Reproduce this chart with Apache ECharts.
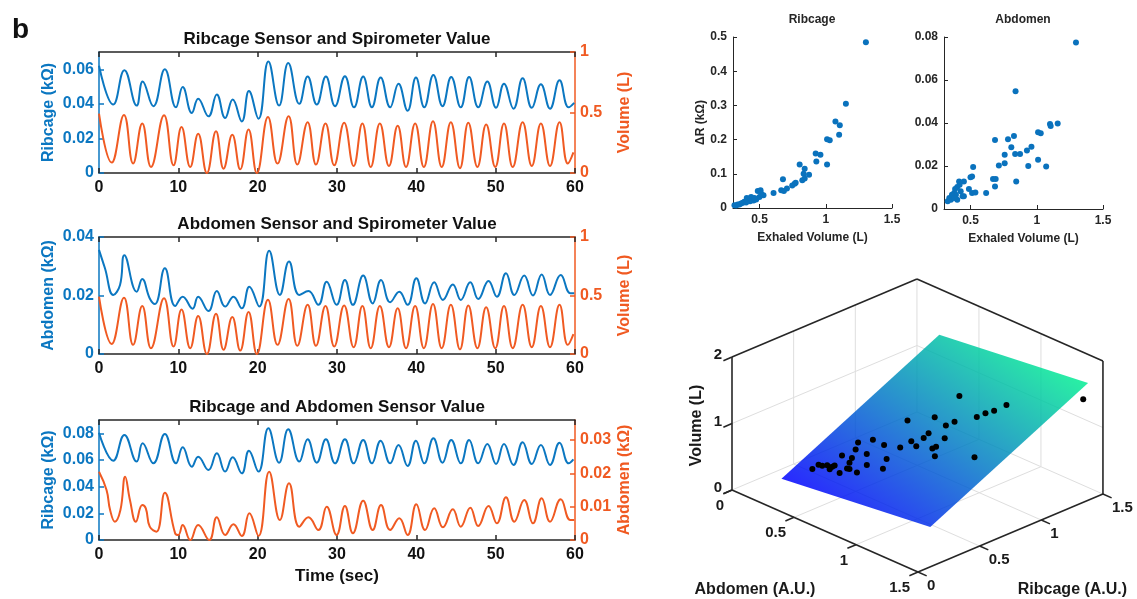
<!DOCTYPE html>
<html>
<head>
<meta charset="utf-8">
<script src="https://cdn.jsdelivr.net/npm/echarts@6/dist/echarts.min.js"></script>
<style>
  html, body { margin: 0; padding: 0; background: #fff; }
  #chart { width: 1137px; height: 599px; }
</style>
</head>
<body>
<div id="chart"></div>
<script>
// ---- time series, [sec, value] at the peaks and troughs ----
const ribcageTop = [[0,0.062],[1.8,0.0396],[3.2,0.0595],[4.75,0.039],[5.5,0.053],[6.85,0.0386],[8.3,0.060],[9.7,0.038],[10.55,0.0497],[11.7,0.0347],[12.5,0.043],[13.8,0.0328],[14.85,0.0454],[15.9,0.0318],[16.85,0.0425],[18.0,0.0298],[18.9,0.0474],[20.1,0.0314],[21.35,0.0645],[22.7,0.039],[23.85,0.0636],[25.25,0.040],[26.3,0.0558],[27.45,0.0396],[28.6,0.0558],[29.75,0.0386],[31.0,0.056],[32.15,0.038],[33.3,0.0558],[34.4,0.038],[35.5,0.0552],[36.7,0.038],[37.75,0.0517],[38.9,0.036],[39.95,0.0552],[41.0,0.038],[42.15,0.0567],[43.3,0.0386],[44.4,0.0556],[45.6,0.038],[46.65,0.0556],[47.8,0.038],[48.95,0.0529],[50.05,0.0377],[51.05,0.0517],[52.25,0.0372],[53.4,0.0548],[54.55,0.0377],[55.7,0.0513],[56.85,0.0372],[58.05,0.0536],[59.2,0.038],[59.9,0.0406]];
const volume = [[0,0.49],[1.6,0.086],[3.15,0.48],[4.3,0.078],[5.45,0.41],[6.55,0.05],[8.2,0.477],[9.4,0.064],[10.4,0.38],[11.5,0.05],[12.5,0.325],[13.6,0.0],[14.75,0.345],[15.7,0.036],[16.8,0.317],[17.8,0.03],[18.85,0.36],[19.9,0.0],[21.3,0.463],[22.5,0.078],[23.9,0.47],[25.0,0.07],[26.3,0.42],[27.35,0.07],[28.55,0.41],[29.65,0.064],[30.9,0.415],[32.1,0.058],[33.2,0.41],[34.25,0.05],[35.4,0.41],[36.55,0.058],[37.65,0.39],[38.7,0.05],[39.85,0.41],[40.95,0.05],[42.1,0.427],[43.2,0.05],[44.35,0.42],[45.5,0.04],[46.55,0.415],[47.7,0.05],[48.8,0.4],[49.95,0.05],[51.05,0.41],[52.15,0.05],[53.4,0.42],[54.55,0.058],[55.7,0.41],[56.85,0.058],[58.05,0.42],[59.1,0.078],[59.8,0.17]];
const abdomenMid = [[0,0.0356],[0.75,0.0293],[1.8,0.0202],[2.65,0.0236],[3.2,0.0338],[4.75,0.0213],[5.45,0.0256],[6.4,0.019],[7.05,0.0171],[8.3,0.0293],[9.6,0.0164],[10.55,0.0196],[11.8,0.0155],[12.5,0.0196],[13.8,0.0147],[14.85,0.0215],[15.9,0.0162],[16.95,0.0196],[18.0,0.0156],[18.95,0.023],[20.2,0.0162],[21.45,0.0353],[22.8,0.0202],[23.95,0.0316],[25.25,0.0202],[26.4,0.0215],[27.65,0.0168],[28.7,0.0247],[29.95,0.0168],[31.0,0.0253],[32.0,0.0168],[33.3,0.0268],[34.5,0.0173],[35.55,0.0253],[36.7,0.0177],[37.85,0.0213],[38.9,0.0168],[40.0,0.0259],[41.1,0.0173],[42.25,0.0245],[43.35,0.0185],[44.6,0.0238],[45.6,0.0185],[46.8,0.0245],[47.8,0.0188],[49.1,0.025],[50.15,0.0196],[51.3,0.0276],[52.35,0.0202],[53.6,0.0268],[54.7,0.02],[55.8,0.0272],[56.85,0.0202],[58.2,0.027],[59.4,0.0208],[59.9,0.0208]];
const ribcageLow = [[0,0.0805],[1.8,0.0595],[3.2,0.0788],[4.75,0.0588],[5.5,0.0725],[6.85,0.0575],[8.3,0.0795],[9.7,0.0575],[10.55,0.0695],[11.7,0.055],[12.5,0.0625],[13.8,0.0525],[14.85,0.065],[15.9,0.0513],[16.85,0.062],[18.0,0.05],[18.9,0.067],[20.1,0.0513],[21.35,0.0838],[22.7,0.058],[23.85,0.083],[25.25,0.0588],[26.3,0.0755],[27.45,0.058],[28.6,0.0755],[29.75,0.0575],[31.0,0.0755],[32.1,0.0575],[33.3,0.075],[34.4,0.0575],[35.5,0.0745],[36.7,0.0575],[37.75,0.0713],[38.9,0.0555],[39.95,0.0745],[41.0,0.0575],[42.15,0.0763],[43.3,0.058],[44.4,0.075],[45.6,0.0575],[46.65,0.075],[47.8,0.0575],[48.95,0.072],[50.05,0.057],[51.05,0.072],[52.25,0.0563],[53.4,0.0733],[54.55,0.057],[55.7,0.0713],[56.85,0.0563],[58.05,0.073],[59.2,0.0575],[59.8,0.0605]];
const abdomenLow = [[0,0.0205],[0.95,0.015],[1.4,0.009],[2.0,0.0055],[2.7,0.009],[3.3,0.019],[3.9,0.012],[4.65,0.0055],[5.45,0.0105],[5.9,0.0095],[6.4,0.004],[7.25,0.0025],[8.3,0.0142],[9.6,0.002],[10.0,0.0015],[10.55,0.0045],[11.5,0],[12.5,0.0045],[13.9,0],[14.85,0.0068],[15.9,0.0015],[16.95,0.0047],[18.0,0.0012],[18.95,0.008],[20.1,0.0012],[21.45,0.0205],[22.8,0.006],[23.95,0.017],[25.25,0.004],[26.4,0.0068],[27.65,0.003],[28.7,0.01],[29.95,0.0015],[31.0,0.0102],[32.0,0.002],[33.3,0.0118],[34.5,0.003],[35.55,0.0105],[36.7,0.003],[37.85,0.0065],[38.9,0.0015],[40.0,0.0107],[41.1,0.003],[42.25,0.0095],[43.35,0.0038],[44.6,0.0092],[45.6,0.004],[46.8,0.0097],[47.8,0.0042],[49.1,0.0102],[50.15,0.005],[51.3,0.0128],[52.35,0.0055],[53.6,0.012],[54.7,0.005],[55.8,0.0125],[56.85,0.0055],[58.2,0.0122],[59.4,0.006],[59.9,0.006]];

// ---- dR vs exhaled volume ----
const ribVol = [1.303,1.152,1.073,1.106,1.101,1.010,1.030,1.010,0.924,0.960,0.929,0.803,0.841,0.874,0.833,0.823,0.841,0.765,0.773,0.747,0.677,0.707,0.664,0.684,0.606,0.487,0.508,0.530,0.500,0.475,0.437,0.419,0.455,0.386,0.404,0.361,0.336,0.311,0.323,0.374,0.429,0.462,0.513,0.348,0.399];
const ribDR = [0.485,0.305,0.253,0.242,0.214,0.201,0.198,0.127,0.159,0.156,0.136,0.127,0.115,0.097,0.100,0.081,0.086,0.071,0.074,0.066,0.084,0.057,0.052,0.050,0.044,0.050,0.052,0.037,0.032,0.025,0.032,0.027,0.022,0.018,0.029,0.013,0.010,0.008,0.007,0.015,0.020,0.029,0.042,0.010,0.016];
const abdVol = [1.296,0.84,1.158,1.10,1.105,1.01,1.03,0.96,0.926,0.936,1.01,1.071,0.874,0.837,0.845,0.828,0.808,0.783,0.758,0.758,0.714,0.685,0.67,0.69,0.685,0.618,0.52,0.512,0.50,0.488,0.512,0.537,0.45,0.426,0.45,0.414,0.418,0.40,0.384,0.377,0.365,0.34,0.328,0.352,0.39,0.44,0.40,0.36,0.377];
const abdDR = [0.0774,0.0548,0.0398,0.0395,0.0386,0.0357,0.0352,0.029,0.0272,0.020,0.0229,0.0198,0.0256,0.0256,0.0128,0.034,0.0287,0.0324,0.0252,0.0213,0.0202,0.0321,0.014,0.014,0.0105,0.0074,0.0195,0.0151,0.0148,0.0093,0.0074,0.0077,0.0128,0.0082,0.0059,0.0128,0.0113,0.0102,0.0093,0.0074,0.0059,0.0051,0.0036,0.0043,0.0066,0.0059,0.0043,0.0066,0.0051];
const volTicksScatter = [0.5, 1, 1.5];

// ---- 3D fit: (abdomen, ribcage, volume) ----
const fitAbd = [0.32,0.33,0.38,0.42,0.52,0.50,0.45,0.42,0.62,0.49,0.59,0.70,0.57,0.73,0.79,0.78,0.78,0.90,0.91,0.71,0.83,0.86,0.72,0.96,0.99,1.02,1.48,0.36,0.42,0.43,0.54];
const fitRib = [0.33,0.37,0.39,0.39,0.41,0.45,0.55,0.60,0.47,0.65,0.64,0.66,0.85,0.72,0.70,0.77,0.81,0.72,0.74,0.93,0.90,0.94,1.12,1.02,1.06,1.10,1.36,0.37,0.37,0.40,0.41];
const fitVol = [0.32,0.36,0.38,0.39,0.43,0.47,0.55,0.59,0.52,0.65,0.66,0.70,0.85,0.77,0.76,0.82,0.86,0.80,0.82,0.95,0.95,1.00,1.13,1.09,1.14,1.17,1.52,0.37,0.37,0.41,0.44];
// points that sit under the plane
const hidAbd = [0.39,0.46,0.53,0.68,0.72,1.04,1.19,0.89,0.95,0.59,0.49];
const hidRib = [0.50,0.51,0.56,0.57,0.50,1.18,0.77,0.83,0.69,0.42,0.38];
const hidVol = [0.45,0.46,0.54,0.58,0.52,1.21,0.87,0.86,0.75,0.42,0.36];
const planeCoef = [-0.05, 0.22, 0.91];   // volume = c0 + c1*abdomen + c2*ribcage
const planeAbd = [0.2, 1.4];
const planeRib = [0.2, 1.48];
const abdTicks = [0, 0.5, 1, 1.5];
const ribTicks = [0, 0.5, 1, 1.5];
const volTicks3d = [0, 1, 2];

const FONT = 'Liberation Sans';
const BLUE = '#0b77c1';
const ORANGE = '#f05a22';
const INK = '#262626';
const DOT = '#0a72bd';

// oblique view used by the 3D panel, in px of the hidden grid
function proj(a, r, v) {
  return [124 * a + 123.3 * r, -54.7 * a + 52 * r + 66.5 * v];
}

const chart = echarts.init(document.getElementById('chart'));

const lineGrids = [
  { left: 99, top: 52, width: 476, height: 121 },
  { left: 99, top: 237, width: 476, height: 117 },
  { left: 99, top: 420, width: 476, height: 120 }
];

function timeAxis(gridIndex, top, name) {
  const ax = {
    type: 'value', gridIndex, min: 0, max: 60, interval: 10,
    position: top ? 'top' : 'bottom',
    axisLine: { show: true, onZero: false, lineStyle: { color: INK, width: 1.5 } },
    axisTick: { show: true, inside: true, length: 5, lineStyle: { color: INK, width: 1.5 } },
    axisLabel: { show: !top, color: '#111', fontSize: 16, fontWeight: 'bold', fontFamily: FONT, margin: 7 },
    splitLine: { show: false }
  };
  if (name) {
    Object.assign(ax, { name, nameLocation: 'middle', nameGap: 28,
      nameTextStyle: { color: '#111', fontSize: 17, fontWeight: 'bold', fontFamily: FONT } });
  }
  return ax;
}

function sideAxis(gridIndex, right, max, ticks, name, color) {
  return {
    type: 'value', gridIndex, min: 0, max, position: right ? 'right' : 'left',
    axisLine: { show: true, onZero: false, lineStyle: { color, width: 1.5 } },
    axisTick: { show: true, inside: true, length: 5, customValues: ticks, lineStyle: { color, width: 1.5 } },
    axisLabel: { color, fontSize: 16, fontWeight: 'bold', fontFamily: FONT, margin: 5, customValues: ticks },
    splitLine: { show: false },
    name, nameLocation: 'middle', nameGap: 42, nameRotate: 90,
    nameTextStyle: { color, fontSize: 16, fontWeight: 'bold', fontFamily: FONT }
  };
}

function scatterX(gridIndex) {
  return {
    type: 'value', gridIndex, min: 0.3, max: 1.5,
    axisLine: { show: true, onZero: false, lineStyle: { color: INK, width: 1 } },
    axisTick: { show: true, inside: true, length: 4, customValues: volTicksScatter, lineStyle: { color: INK } },
    axisLabel: { color: INK, fontSize: 12, fontWeight: 'bold', fontFamily: FONT, margin: 6, customValues: volTicksScatter },
    splitLine: { show: false },
    name: 'Exhaled Volume (L)', nameLocation: 'middle', nameGap: 24,
    nameTextStyle: { color: INK, fontSize: 12, fontWeight: 'bold', fontFamily: FONT }
  };
}

function scatterY(gridIndex, max, interval, name) {
  return {
    type: 'value', gridIndex, min: 0, max, interval,
    axisLine: { show: true, onZero: false, lineStyle: { color: INK, width: 1 } },
    axisTick: { show: true, inside: true, length: 4, lineStyle: { color: INK } },
    axisLabel: { color: INK, fontSize: 12, fontWeight: 'bold', fontFamily: FONT, margin: 6 },
    splitLine: { show: false },
    name, nameLocation: 'middle', nameGap: 26, nameRotate: 90,
    nameTextStyle: { color: INK, fontSize: 12, fontWeight: 'bold', fontFamily: FONT }
  };
}

function trace(xi, yi, data, color) {
  return {
    type: 'line', xAxisIndex: xi, yAxisIndex: yi, data,
    smooth: 0.45, symbol: 'none', lineStyle: { color, width: 2 }, itemStyle: { color }
  };
}

const text = (txt, size, color, align) => ({
  text: txt, fill: color, font: 'bold ' + size + 'px "' + FONT + '"',
  textAlign: align, align, textVerticalAlign: 'middle', verticalAlign: 'middle'
});

// grid walls, box edges, ticks and labels of the 3D panel
function boxItem(params, api) {
  const P = (a, r, v) => api.coord(proj(a, r, v));
  const kids = [];
  const seg = (p, q, color, w) => kids.push({
    type: 'line', silent: true,
    shape: { x1: p[0], y1: p[1], x2: q[0], y2: q[1] },
    style: { stroke: color, lineWidth: w }
  });
  const label = (p, dx, dy, txt, align) => kids.push({
    type: 'text', silent: true, x: p[0] + dx, y: p[1] + dy, style: text(txt, 15, '#1a1a1a', align)
  });
  const GRID = '#dedede';
  abdTicks.forEach(a => { if (a > 0 && a < 1.5) { seg(P(a, 0, 0), P(a, 1.5, 0), GRID, 1); seg(P(a, 1.5, 0), P(a, 1.5, 2), GRID, 1); } });
  ribTicks.forEach(r => { if (r > 0 && r < 1.5) { seg(P(0, r, 0), P(1.5, r, 0), GRID, 1); seg(P(0, r, 0), P(0, r, 2), GRID, 1); } });
  volTicks3d.forEach(v => { if (v > 0 && v < 2) { seg(P(0, 0, v), P(0, 1.5, v), GRID, 1); seg(P(0, 1.5, v), P(1.5, 1.5, v), GRID, 1); } });
  seg(P(0, 0, 0), P(0, 1.5, 0), GRID, 1);
  seg(P(0, 1.5, 0), P(1.5, 1.5, 0), GRID, 1);
  seg(P(0, 1.5, 0), P(0, 1.5, 2), GRID, 1);

  seg(P(0, 0, 0), P(0, 0, 2), INK, 1.6);
  seg(P(0, 0, 2), P(0, 1.5, 2), INK, 1.6);
  seg(P(0, 1.5, 2), P(1.5, 1.5, 2), INK, 1.6);
  seg(P(1.5, 1.5, 0), P(1.5, 1.5, 2), INK, 1.6);
  seg(P(0, 0, 0), P(1.5, 0, 0), INK, 1.6);
  seg(P(1.5, 0, 0), P(1.5, 1.5, 0), INK, 1.6);

  abdTicks.forEach(a => { seg(P(a, 0, 0), P(a, -0.07, 0), INK, 1.6); label(P(a, 0, 0), -8, 16, String(a), 'right'); });
  ribTicks.forEach(r => { seg(P(1.5, r, 0), P(1.57, r, 0), INK, 1.6); label(P(1.5, r, 0), 9, 14, String(r), 'left'); });
  volTicks3d.forEach(v => { seg(P(0, 0, v), P(0, -0.07, v), INK, 1.6); label(P(0, 0, v), -10, -2, String(v), 'right'); });

  const zn = P(0, 0, 1), an = P(0.75, 0, 0), rn = P(1.5, 0.75, 0);
  kids.push({ type: 'text', silent: true, x: zn[0] - 35, y: zn[1] + 2, rotation: Math.PI / 2, style: text('Volume (L)', 16, '#1a1a1a', 'center') });
  kids.push({ type: 'text', silent: true, x: an[0] - 70, y: an[1] + 59, style: text('Abdomen (A.U.)', 16, '#1a1a1a', 'center') });
  kids.push({ type: 'text', silent: true, x: rn[0] + 62, y: rn[1] + 57, style: text('Ribcage (A.U.)', 16, '#1a1a1a', 'center') });
  return { type: 'group', children: kids };
}

// fitted plane, shaded along volume like MATLAB's winter map
function planeItem(params, api) {
  const [c0, c1, c2] = planeCoef;
  const [a0, a1] = planeAbd;
  const [r0, r1] = planeRib;
  const P = (a, r) => api.coord(proj(a, r, c0 + c1 * a + c2 * r));
  const p1 = P(a0, r0), p2 = P(a1, r0), p3 = P(a1, r1), p4 = P(a0, r1);
  const e1 = [p2[0] - p1[0], p2[1] - p1[1]];
  const e2 = [p4[0] - p1[0], p4[1] - p1[1]];
  const d1 = c1 * (a1 - a0), d2 = c2 * (r1 - r0);
  const det = e1[0] * e2[1] - e1[1] * e2[0];
  const gx = (d1 * e2[1] - e1[1] * d2) / det;
  const gy = (e1[0] * d2 - e2[0] * d1) / det;
  const k = (d1 + d2) / (gx * gx + gy * gy);
  const fill = new echarts.graphic.LinearGradient(p1[0], p1[1], p1[0] + gx * k, p1[1] + gy * k, [
    { offset: 0, color: '#0000ff' },
    { offset: 0.5, color: '#0079c6' },
    { offset: 1, color: '#00ee92' }
  ], true);
  return {
    type: 'polygon', silent: true,
    shape: { points: [p1, p2, p3, p4] },
    style: { fill, opacity: 0.84 }
  };
}

const option = {
  animation: false,
  backgroundColor: '#fff',
  grid: [
    ...lineGrids,
    { left: 733, top: 37, width: 159, height: 171 },
    { left: 944, top: 37, width: 159, height: 172 },
    { left: 732, top: 279, width: 371, height: 293 }
  ],
  xAxis: [
    timeAxis(0, false), timeAxis(0, true),
    timeAxis(1, false), timeAxis(1, true),
    timeAxis(2, false, 'Time (sec)'), timeAxis(2, true),
    scatterX(3), scatterX(4),
    { type: 'value', gridIndex: 5, min: 0, max: 371, show: false }
  ],
  yAxis: [
    sideAxis(0, false, 0.07, [0, 0.02, 0.04, 0.06], 'Ribcage (kΩ)', BLUE),
    sideAxis(0, true, 1, [0, 0.5, 1], 'Volume (L)', ORANGE),
    sideAxis(1, false, 0.04, [0, 0.02, 0.04], 'Abdomen (kΩ)', BLUE),
    sideAxis(1, true, 1, [0, 0.5, 1], 'Volume (L)', ORANGE),
    sideAxis(2, false, 0.09, [0, 0.02, 0.04, 0.06, 0.08], 'Ribcage (kΩ)', BLUE),
    sideAxis(2, true, 0.036, [0, 0.01, 0.02, 0.03], 'Abdomen (kΩ)', ORANGE),
    scatterY(3, 0.5, 0.1, 'ΔR (kΩ)'),
    scatterY(4, 0.08, 0.02, ''),
    { type: 'value', gridIndex: 5, min: -82, max: 211, show: false }
  ],
  graphic: [
    { type: 'text', x: 12, y: 30, style: text('b', 28, '#111', 'left') },
    { type: 'text', x: 337, y: 39, style: text('Ribcage Sensor and Spirometer Value', 17, '#111', 'center') },
    { type: 'text', x: 337, y: 224, style: text('Abdomen Sensor and Spirometer Value', 17, '#111', 'center') },
    { type: 'text', x: 337, y: 407, style: text('Ribcage and Abdomen Sensor Value', 17, '#111', 'center') },
    { type: 'text', x: 812, y: 20, style: text('Ribcage', 12, INK, 'center') },
    { type: 'text', x: 1023, y: 20, style: text('Abdomen', 12, INK, 'center') }
  ],
  series: [
    trace(0, 0, ribcageTop, BLUE),
    trace(0, 1, volume, ORANGE),
    trace(2, 2, abdomenMid, BLUE),
    trace(2, 3, volume, ORANGE),
    trace(4, 4, ribcageLow, BLUE),
    trace(4, 5, abdomenLow, ORANGE),
    {
      type: 'scatter', xAxisIndex: 6, yAxisIndex: 6, symbolSize: 6,
      data: ribVol.map((v, i) => [v, ribDR[i]]), itemStyle: { color: DOT, opacity: 1 }
    },
    {
      type: 'scatter', xAxisIndex: 7, yAxisIndex: 7, symbolSize: 6,
      data: abdVol.map((v, i) => [v, abdDR[i]]), itemStyle: { color: DOT, opacity: 1 }
    },
    { type: 'custom', xAxisIndex: 8, yAxisIndex: 8, data: [[0, 0]], renderItem: boxItem, silent: true },
    {
      type: 'scatter', xAxisIndex: 8, yAxisIndex: 8, symbolSize: 6, silent: true,
      data: hidAbd.map((a, i) => proj(a, hidRib[i], hidVol[i])), itemStyle: { color: '#000', opacity: 1 }
    },
    { type: 'custom', xAxisIndex: 8, yAxisIndex: 8, data: [[0, 0]], renderItem: planeItem, silent: true },
    {
      type: 'scatter', xAxisIndex: 8, yAxisIndex: 8, symbolSize: 6, silent: true,
      data: fitAbd.map((a, i) => proj(a, fitRib[i], fitVol[i])), itemStyle: { color: '#000', opacity: 1 }
    }
  ]
};

chart.setOption(option);
</script>
</body>
</html>
